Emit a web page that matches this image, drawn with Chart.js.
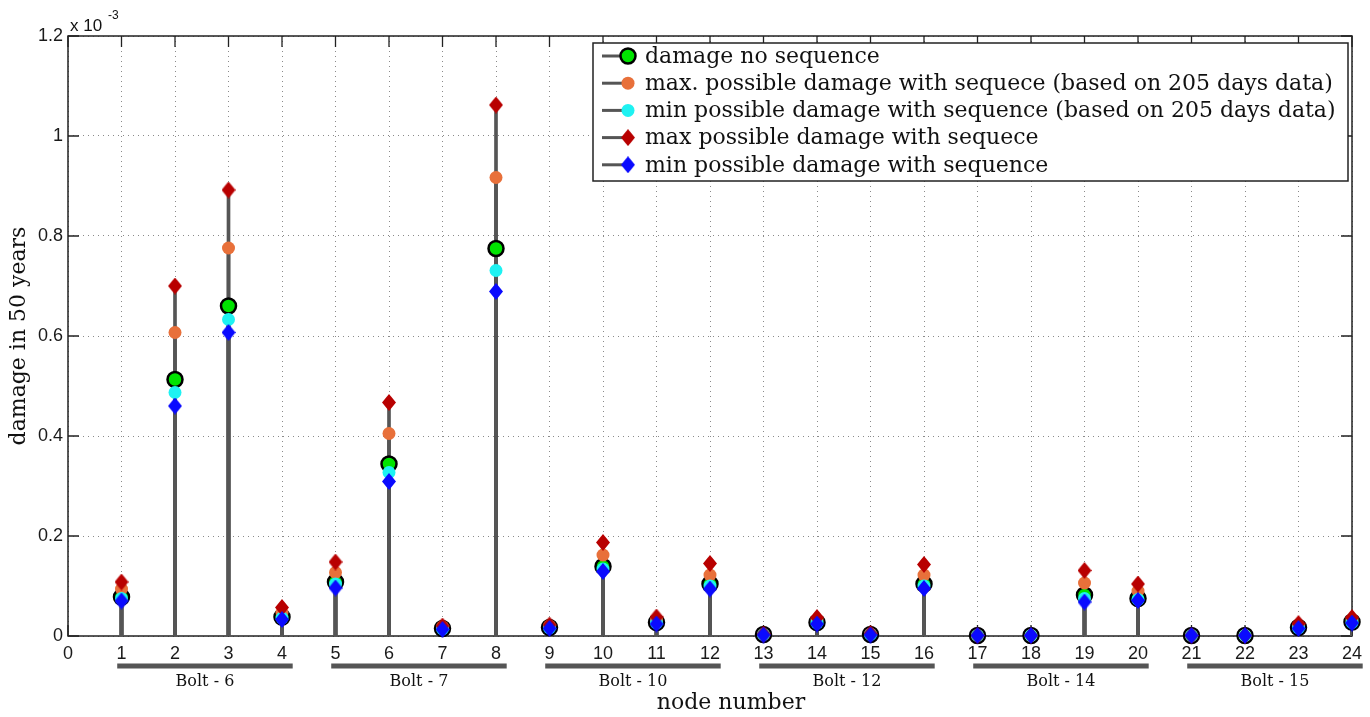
<!DOCTYPE html>
<html>
<head>
<meta charset="utf-8">
<title>damage in 50 years</title>
<script src="https://cdn.jsdelivr.net/npm/chart.js@4/dist/chart.umd.min.js"></script>
<style>
  html, body { margin: 0; padding: 0; background: #fff; }
  #wrap { width: 1370px; height: 717px; }
</style>
</head>
<body>
<div id="wrap"><canvas id="damageChart"></canvas></div>
<script>
// node numbers along the bolt line
const nodes = [1, 2, 3, 4, 5, 6, 7, 8, 9, 10, 11, 12, 13, 14, 15, 16, 17, 18, 19, 20, 21, 22, 23, 24];

// damage values, in units of 1e-3
const damageNoSeq = [0.078, 0.513, 0.660, 0.038, 0.108, 0.344, 0.015, 0.775, 0.017, 0.139, 0.027, 0.104,
                     0.003, 0.027, 0.003, 0.104, 0.001, 0.001, 0.082, 0.075, 0.001, 0.001, 0.017, 0.028];
const damageMax205 = [0.094, 0.607, 0.776, 0.047, 0.127, 0.405, 0.018, 0.917, 0.020, 0.162, 0.032, 0.122,
                      0.003, 0.032, 0.004, 0.122, 0.001, 0.001, 0.106, 0.090, 0.001, 0.001, 0.020, 0.032];
const damageMin205 = [0.075, 0.487, 0.633, 0.036, 0.104, 0.327, 0.014, 0.731, 0.016, 0.134, 0.026, 0.100,
                      0.003, 0.026, 0.003, 0.100, 0.001, 0.001, 0.075, 0.073, 0.001, 0.001, 0.016, 0.027];
const damageMax = [0.108, 0.700, 0.892, 0.057, 0.148, 0.467, 0.020, 1.062, 0.022, 0.187, 0.038, 0.145,
                   0.004, 0.037, 0.005, 0.143, 0.001, 0.001, 0.131, 0.104, 0.001, 0.001, 0.025, 0.037];
const damageMin = [0.070, 0.460, 0.607, 0.033, 0.096, 0.309, 0.013, 0.689, 0.015, 0.129, 0.024, 0.094,
                   0.002, 0.024, 0.002, 0.095, 0.001, 0.001, 0.068, 0.071, 0.001, 0.001, 0.015, 0.026];

const xTicks = [0, 1, 2, 3, 4, 5, 6, 7, 8, 9, 10, 11, 12, 13, 14, 15, 16, 17, 18, 19, 20, 21, 22, 23, 24];
const yTicks = [0, 0.2, 0.4, 0.6, 0.8, 1, 1.2];

// bolt groups under the node axis
const boltNames = ['Bolt - 6', 'Bolt - 7', 'Bolt - 10', 'Bolt - 12', 'Bolt - 14', 'Bolt - 15'];
const boltFirst = [1, 5, 9, 13, 17, 21];
const boltLast = [4, 8, 12, 16, 20, 24];

const STEM = '#555555';
const SERIF = '"DejaVu Serif", serif';
const SANS = '"Liberation Sans", Arial, sans-serif';

// slightly tall diamond, like matlab's 'd' marker
function diamond(color, w, h) {
    const c = document.createElement('canvas');
    c.width = w;
    c.height = h;
    const g = c.getContext('2d');
    g.fillStyle = color;
    g.beginPath();
    g.moveTo(w / 2, 0);
    g.lineTo(w, h / 2);
    g.lineTo(w / 2, h);
    g.lineTo(0, h / 2);
    g.closePath();
    g.fill();
    return c;
}

function pts(values) {
    return nodes.map((n, i) => ({ x: n, y: values[i] }));
}

function stems(values) {
    return {
        type: 'bar',
        data: pts(values),
        backgroundColor: STEM,
        borderWidth: 0,
        barThickness: 3,
        grouped: false,
        order: 10
    };
}

function markers(label, values, style, radius, fill, stroke, bw, order) {
    return {
        type: 'scatter',
        label: label,
        data: pts(values),
        pointStyle: style,
        pointRadius: radius,
        backgroundColor: fill,
        borderColor: stroke,
        borderWidth: bw,
        clip: false,
        order: order
    };
}

// frame of the axes with inward tick marks
const framePlugin = {
    id: 'frame',
    beforeDatasetsDraw(chart) {
        const { ctx, chartArea: a, scales: { x, y } } = chart;
        ctx.save();
        ctx.strokeStyle = '#222';
        ctx.lineWidth = 1.5;
        ctx.strokeRect(a.left, a.top, a.right - a.left, a.bottom - a.top);
        ctx.lineWidth = 1.3;
        ctx.beginPath();
        xTicks.forEach(v => {
            const px = x.getPixelForValue(v);
            ctx.moveTo(px, a.bottom); ctx.lineTo(px, a.bottom - 11);
            ctx.moveTo(px, a.top); ctx.lineTo(px, a.top + 11);
        });
        yTicks.forEach(v => {
            const py = y.getPixelForValue(v);
            ctx.moveTo(a.left, py); ctx.lineTo(a.left + 11, py);
            ctx.moveTo(a.right, py); ctx.lineTo(a.right - 11, py);
        });
        ctx.stroke();
        ctx.restore();
    }
};

function drawMarker(ctx, style, cx, cy, r, fill, stroke, bw) {
    if (style instanceof HTMLCanvasElement) {
        ctx.drawImage(style, cx - style.width / 2, cy - style.height / 2);
        return;
    }
    ctx.beginPath();
    ctx.arc(cx, cy, r, 0, Math.PI * 2);
    ctx.fillStyle = fill;
    ctx.fill();
    if (bw > 0) {
        ctx.lineWidth = bw;
        ctx.strokeStyle = stroke;
        ctx.stroke();
    }
}

// legend box inside the plot, top right
const legendPlugin = {
    id: 'boxLegend',
    afterDatasetsDraw(chart) {
        const ctx = chart.ctx;
        const series = chart.data.datasets.filter(d => d.type === 'scatter');
        const left = 593, top = 43, right = 1348, bottom = 181;
        ctx.save();
        ctx.fillStyle = '#fff';
        ctx.fillRect(left, top, right - left, bottom - top);
        ctx.strokeStyle = '#222';
        ctx.lineWidth = 1.5;
        ctx.strokeRect(left, top, right - left, bottom - top);
        ctx.font = '22px ' + SERIF;
        ctx.textBaseline = 'middle';
        series.forEach((ds, i) => {
            const yy = 56 + i * 27.2;
            ctx.strokeStyle = STEM;
            ctx.lineWidth = 3;
            ctx.beginPath();
            ctx.moveTo(602, yy);
            ctx.lineTo(626, yy);
            ctx.stroke();
            drawMarker(ctx, ds.pointStyle, 628, yy, ds.pointRadius, ds.backgroundColor, ds.borderColor, ds.borderWidth);
            ctx.fillStyle = '#111';
            ctx.fillText(ds.label, 645, yy + 1);
        });
        ctx.restore();
    }
};

// axis titles, exponent and the bolt groups
const annotPlugin = {
    id: 'annot',
    afterDraw(chart) {
        const { ctx, chartArea: a, scales: { x } } = chart;
        ctx.save();
        ctx.fillStyle = '#111';

        ctx.font = '17px ' + SANS;
        ctx.textBaseline = 'alphabetic';
        ctx.textAlign = 'left';
        ctx.fillText('x 10', 70, 31);
        ctx.font = '12px ' + SANS;
        ctx.fillText('-3', 108, 19);

        ctx.font = '22px ' + SERIF;
        ctx.textAlign = 'center';
        ctx.textBaseline = 'middle';
        ctx.fillText('node number', 731, 703);
        ctx.save();
        ctx.translate(19, (a.top + a.bottom) / 2);
        ctx.rotate(-Math.PI / 2);
        ctx.fillText('damage in 50 years', 0, 0);
        ctx.restore();

        ctx.strokeStyle = STEM;
        ctx.lineWidth = 5;
        ctx.font = '16px ' + SERIF;
        boltNames.forEach((name, i) => {
            const x1 = x.getPixelForValue(boltFirst[i] - 0.08);
            const x2 = x.getPixelForValue(boltLast[i] + 0.2);
            ctx.beginPath();
            ctx.moveTo(x1, 666);
            ctx.lineTo(x2, 666);
            ctx.stroke();
            ctx.fillText(name, (x1 + x2) / 2, 682);
        });
        ctx.restore();
    }
};

new Chart(document.getElementById('damageChart'), {
    type: 'scatter',
    data: {
        datasets: [
            stems(damageNoSeq), stems(damageMax205), stems(damageMin205), stems(damageMax), stems(damageMin),
            markers('damage no sequence', damageNoSeq, 'circle', 7.5, '#00e400', '#000', 2.5, 5),
            markers('max. possible damage with sequece (based on 205 days data)', damageMax205, 'circle', 6.5, '#e8703a', '#e8703a', 0, 4),
            markers('min possible damage with sequence (based on 205 days data)', damageMin205, 'circle', 6.5, '#1ef2f2', '#1ef2f2', 0, 3),
            markers('max possible damage with sequece', damageMax, diamond('#b80000', 14, 17), 8.5, '#b80000', '#b80000', 0, 2),
            markers('min possible damage with sequence', damageMin, diamond('#0a0aff', 14, 17), 8.5, '#0a0aff', '#0a0aff', 0, 1)
        ]
    },
    options: {
        responsive: true,
        maintainAspectRatio: false,
        animation: false,
        events: [],
        layout: { padding: { top: 36, right: 18, left: 0, bottom: 0 }, autoPadding: false },
        plugins: { legend: { display: false }, tooltip: { enabled: false } },
        scales: {
            x: {
                type: 'linear',
                min: 0,
                max: 24,
                offset: false,
                afterBuildTicks: s => { s.ticks = xTicks.map(v => ({ value: v })); },
                afterFit: s => { s.height = 81; },
                grid: { color: '#8a8a8a', lineWidth: 1, drawTicks: false, offset: false },
                border: { display: false, dash: [1, 4] },
                ticks: {
                    padding: 7,
                    maxRotation: 0,
                    autoSkip: false,
                    color: '#1a1a1a',
                    font: { family: SANS, size: 18 },
                    callback: v => String(v)
                }
            },
            y: {
                type: 'linear',
                min: 0,
                max: 1.2,
                afterBuildTicks: s => { s.ticks = yTicks.map(v => ({ value: v })); },
                afterFit: s => { s.width = 68; },
                grid: { color: '#8a8a8a', lineWidth: 1, drawTicks: false },
                border: { display: false, dash: [1, 4] },
                ticks: {
                    padding: 5,
                    color: '#1a1a1a',
                    font: { family: SANS, size: 18 },
                    callback: v => String(+v.toFixed(1))
                }
            }
        }
    },
    plugins: [framePlugin, legendPlugin, annotPlugin]
});
</script>
</body>
</html>
